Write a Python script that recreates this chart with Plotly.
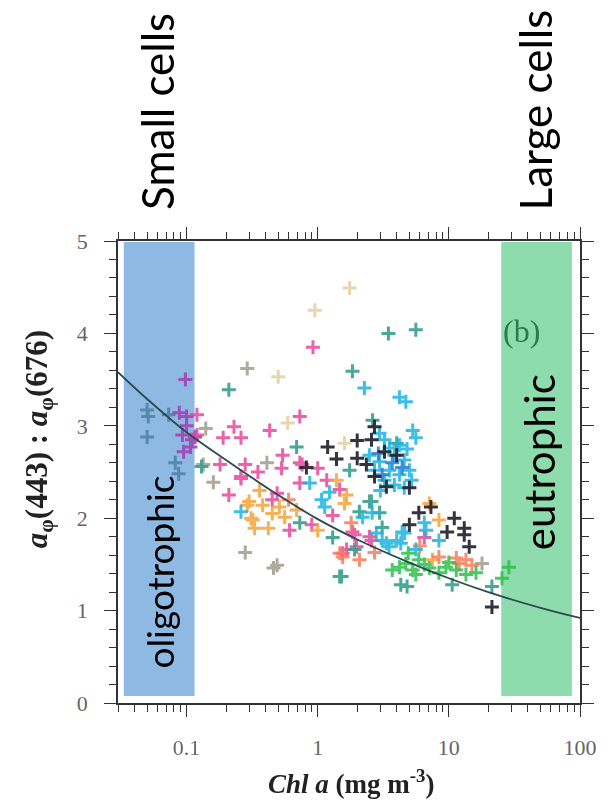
import plotly.graph_objects as go

# ---------------- data ----------------
pink_x = [0.12, 0.23, 0.19, 0.26, 0.12, 0.73, 0.92, 0.18, 0.28, 0.54, 0.73, 0.26, 0.53, 0.76, 1.0,
          0.73, 1.17, 1.47, 1.30, 1.84, 0.26, 0.49, 0.61, 0.90, 1.66, 1.98, 2.48, 6.5, 2.57, 1.91,
          1.55, 0.21, 0.43, 0.35, 0.45]
pink_y = [3.12, 2.99, 2.87, 2.87, 2.90, 3.10, 3.85, 2.58, 2.58, 2.68, 2.60, 2.45, 2.54, 2.58, 2.54,
          2.38, 2.41, 2.31, 2.03, 1.85, 2.43, 2.27, 1.87, 1.93, 1.66, 1.69, 1.80, 1.79, 1.76, 1.82,
          1.62, 2.25, 2.95, 2.50, 2.20]

purple_x = [0.098, 0.088, 0.10, 0.093, 0.11, 0.095, 0.107, 0.116, 0.10]
purple_y = [3.50, 3.14, 3.10, 2.90, 2.85, 2.72, 2.77, 2.88, 3.00]

steel_x = [0.050, 0.051, 0.050, 0.082, 0.087, 0.073]
steel_y = [3.17, 3.10, 2.88, 2.60, 2.48, 3.12]

teal_x = [0.21, 1.84, 3.46, 5.6, 2.62, 0.69, 4.0, 1.75, 2.48, 0.73, 1.3, 3.1, 2.57, 2.08, 2.96,
          1.91, 1.52, 1.47, 4.3, 4.8, 10.6, 21.3, 0.13]
teal_y = [3.39, 3.59, 4.00, 4.04, 3.06, 2.77, 2.81, 2.52, 2.18, 1.95, 1.79, 1.90, 2.18, 2.07, 2.06,
          1.66, 1.37, 1.37, 1.28, 1.26, 1.28, 1.26, 2.56]

gray_x = [0.29, 0.14, 0.134, 0.41, 0.16, 0.28, 0.49, 0.46, 17.9]
gray_y = [3.62, 2.97, 2.58, 2.60, 2.39, 1.63, 1.49, 1.46, 1.51]

tan_x = [1.75, 0.95, 0.50, 0.59, 1.6]
tan_y = [4.49, 4.25, 3.53, 3.03, 2.81]

black_x = [2.71, 2.0, 2.57, 1.19, 1.39, 2.0, 2.35, 3.23, 4.0, 3.34, 5.0, 2.71, 0.82, 7.3, 11.0,
           13.1, 13.1, 14.3, 9.7, 5.0, 5.9, 21.3]
black_y = [2.99, 2.84, 2.85, 2.77, 2.64, 2.65, 2.58, 2.72, 2.68, 2.34, 2.33, 2.45, 2.55, 2.12, 2.00,
           1.89, 1.82, 1.69, 1.85, 1.93, 2.06, 1.04]

cyan_x = [2.27, 4.2, 4.7, 2.96, 5.3, 5.6, 0.87, 1.23, 1.07, 1.13, 2.2, 2.6, 3.34, 4.0, 4.4, 6.5,
          8.4, 6.7, 4.6, 4.3, 5.6, 3.5, 3.1, 2.8, 0.26, 3.23, 3.52, 4.2, 3.84, 4.57, 2.96, 3.52,
          4.2, 5.0, 3.23, 3.84, 4.57, 5.2, 2.71, 2.48, 3.0, 4.8]
cyan_y = [3.41, 3.31, 3.26, 2.92, 2.95, 2.87, 2.38, 2.28, 2.20, 2.12, 2.01, 2.06, 1.73, 1.76, 1.85,
          1.95, 1.76, 1.87, 1.84, 1.73, 1.66, 1.69, 1.76, 1.84, 2.07, 2.85, 2.76, 2.79, 2.68, 2.63,
          2.61, 2.52, 2.47, 2.52, 2.41, 2.36, 2.33, 2.41, 2.52, 2.68, 2.30, 2.75]

blue_x = [3.7, 4.4, 3.1, 2.9]
blue_y = [2.60, 2.55, 2.47, 2.70]

orange_x = [1.39, 1.60, 1.66, 0.51, 0.38, 0.29, 0.32, 0.42, 0.56, 0.69, 1.0, 0.30, 0.31, 0.33,
            7.1, 8.4, 7.5, 0.45, 0.36]
orange_y = [2.41, 2.16, 2.25, 2.12, 2.14, 2.14, 1.98, 1.89, 2.01, 2.09, 1.87, 2.18, 2.00, 1.89,
            2.16, 1.98, 1.55, 2.05, 2.30]

salmon_x = [11.4, 13.5, 15.0, 12.0, 8.4, 2.08, 1.55, 1.47, 2.71, 6.0, 0.6, 1.8]
salmon_y = [1.57, 1.55, 1.49, 1.51, 1.58, 1.55, 1.58, 1.62, 1.63, 1.70, 2.20, 1.95]

green_x = [28.7, 25.4, 4.7, 5.3, 4.2, 5.9, 3.7, 5.6, 7.1, 8.4, 9.5, 11.4, 13.5, 16.1, 6.5, 10.0, 4.9]
green_y = [1.47, 1.35, 1.51, 1.44, 1.47, 1.55, 1.44, 1.39, 1.46, 1.41, 1.47, 1.44, 1.39, 1.41,
           1.50, 1.52, 1.62]

# fitted curve
fit_x = [0.03, 0.05, 0.1, 0.2, 0.5, 1, 2, 5, 10, 20, 50, 100]
fit_y = [3.58, 3.29, 2.93, 2.63, 2.25, 1.99, 1.77, 1.52, 1.35, 1.20, 1.03, 0.92]

# shaded regions (Chl a ranges)
oligo_range = [0.0332, 0.115]
eutro_range = [25.1, 86.7]
band_y = [0.076, 4.99]

x_tickvals = [0.1, 1, 10, 100]
x_ticktext = ["0.1", "1", "10", "100"]
y_tickvals = [0, 1, 2, 3, 4, 5]
y_ticktext = ["0", "1", "2", "3", "4", "5"]

# ---------------- figure ----------------
groups = [
    (gray_x, gray_y, "#9a9585", 0.8),
    (tan_x, tan_y, "#d6b46a", 0.55),
    (steel_x, steel_y, "#4f86a6", 0.9),
    (purple_x, purple_y, "#a044b4", 0.9),
    (pink_x, pink_y, "#e4479c", 0.85),
    (orange_x, orange_y, "#f5a43a", 0.85),
    (salmon_x, salmon_y, "#f47c5c", 0.85),
    (teal_x, teal_y, "#35a08e", 0.9),
    (cyan_x, cyan_y, "#1db3df", 0.85),
    (blue_x, blue_y, "#2a78d0", 0.85),
    (green_x, green_y, "#2bc04c", 0.85),
    (black_x, black_y, "#1e1e2a", 0.9),
]

fig = go.Figure()
for gx, gy, col, op in groups:
    fig.add_trace(go.Scatter(
        x=gx, y=gy, mode="markers", opacity=op, showlegend=False,
        marker=dict(symbol="cross-thin", size=10, line=dict(width=3, color=col)),
    ))

fig.add_trace(go.Scatter(x=fit_x, y=fit_y, mode="lines", showlegend=False,
                         line=dict(color="#2d4a4e", width=1.8, shape="spline")))

fig.add_shape(type="rect", xref="x", yref="y", layer="below", line_width=0,
              x0=oligo_range[0], x1=oligo_range[1], y0=band_y[0], y1=band_y[1],
              fillcolor="rgb(141,185,226)")
fig.add_shape(type="rect", xref="x", yref="y", layer="below", line_width=0,
              x0=eutro_range[0], x1=eutro_range[1], y0=band_y[0], y1=band_y[1],
              fillcolor="rgb(142,219,173)")

sans = "Lato, Open Sans, sans-serif"
serif = "Liberation Serif, Times New Roman, serif"

fig.add_annotation(text="oligotrophic", xref="paper", yref="paper", x=0.0905, y=0.284,
                   textangle=-90, showarrow=False, xanchor="center", yanchor="middle",
                   font=dict(family=sans, size=37, color="black"))
fig.add_annotation(text="eutrophic", xref="paper", yref="paper", x=0.910, y=0.522,
                   textangle=-90, showarrow=False, xanchor="center", yanchor="middle",
                   font=dict(family=sans, size=42, color="black"))
fig.add_annotation(text="Small cells", xref="paper", yref="paper", x=0.084, y=1.281,
                   textangle=-90, showarrow=False, xanchor="center", yanchor="middle",
                   font=dict(family=sans, size=44, color="black"))
fig.add_annotation(text="Large cells", xref="paper", yref="paper", x=0.903, y=1.283,
                   textangle=-90, showarrow=False, xanchor="center", yanchor="middle",
                   font=dict(family=sans, size=44, color="black"))
fig.add_annotation(text="(b)", xref="paper", yref="paper", x=0.874, y=0.805,
                   showarrow=False, xanchor="center", yanchor="middle",
                   font=dict(family=serif, size=32, color="#2f7a4a"))
fig.add_annotation(text="<b><i>a</i><sub>φ</sub>(443) : <i>a</i><sub>φ</sub>(676)</b>",
                   xref="paper", yref="paper", x=-0.172, y=0.57, textangle=-90,
                   showarrow=False, xanchor="center", yanchor="middle",
                   font=dict(family=serif, size=31, color="#222"))
fig.add_annotation(text="<b><i>Chl a</i> (mg m<sup>-3</sup>)</b>",
                   xref="paper", yref="paper", x=0.506, y=-0.172,
                   showarrow=False, xanchor="center", yanchor="middle",
                   font=dict(family=serif, size=27, color="#222"))

axis_common = dict(showline=True, linecolor="#333", linewidth=1.6, mirror="ticks",
                   ticks="outside", ticklen=12, tickwidth=1.3, tickcolor="#333",
                   showgrid=False, zeroline=False,
                   tickfont=dict(family=serif, size=22, color="#666"))

fig.update_xaxes(type="log", range=[-1.523, 2.0], tickvals=x_tickvals, ticktext=x_ticktext,
                 ticklabelstandoff=12,
                 minor=dict(ticks="outside", ticklen=7, tickwidth=1.1, tickcolor="#333",
                            dtick="D1", showgrid=False),
                 **axis_common)
fig.update_yaxes(range=[0, 5], tickvals=y_tickvals, ticktext=y_ticktext,
                 ticklabelstandoff=12,
                 minor=dict(ticks="outside", ticklen=7, tickwidth=1.1, tickcolor="#333",
                            dtick=0.2, showgrid=False),
                 **axis_common)

fig.update_layout(width=609, height=804, plot_bgcolor="white", paper_bgcolor="white",
                  margin=dict(l=118, r=27, t=241, b=101), showlegend=False)

fig.write_html("out.html")
